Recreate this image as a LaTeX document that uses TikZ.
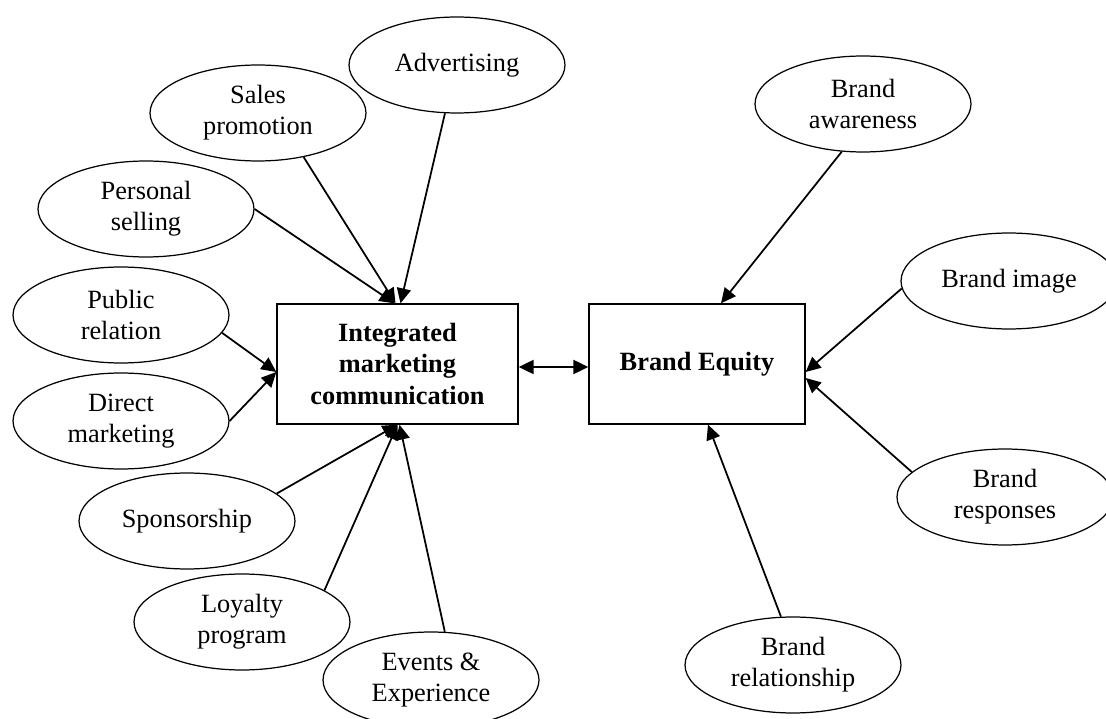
\documentclass[tikz,border=0pt]{standalone}
\usepackage{fontspec}
\setmainfont{Liberation Serif}
\usetikzlibrary{arrows.meta,calc,shapes.geometric}

\begin{document}
\begin{tikzpicture}[x=0.02cm,y=-0.02cm,font=\fontsize{15}{17.5}\selectfont,
  bolla/.style={ellipse,draw,line width=0.7pt,minimum width=4.32cm,minimum height=1.92cm,inner sep=0pt,align=center},
  riquadro/.style={rectangle,draw,line width=0.8pt,minimum height=2.4cm,align=center,font=\fontsize{15}{18}\selectfont\bfseries},
  freccia/.style={line width=1pt,-{Triangle[length=8.5pt,width=8pt]}}]

\useasboundingbox (0,0) rectangle (1106,719);
\clip (0,0) rectangle (1106,719);

\node[riquadro,minimum width=4.82cm] (imc) at (397.5,364) {Integrated\\marketing\\communication};
\node[riquadro,minimum width=4.32cm] (be) at (697,364) {Brand Equity};

\node[bolla] (adv) at (457,65) {Advertising};
\node[bolla] (sales) at (258,113) {Sales\\promotion};
\node[bolla] (pers) at (146,209) {Personal\\selling};
\node[bolla] (pub) at (121,315) {Public\\relation};
\node[bolla] (dir) at (121,421) {Direct\\marketing};
\node[bolla] (spons) at (187,521) {Sponsorship};
\node[bolla] (loy) at (242,622) {Loyalty\\program};
\node[bolla] (events) at (431,680) {Events \&\\Experience};

\node[bolla] (aware) at (863,104) {Brand\\awareness};
\node[bolla] (image) at (1009,281) {Brand image};
\node[bolla] (resp) at (1005,497) {Brand\\responses};
\node[bolla] (rel) at (793,665) {Brand\\relationship};

\coordinate (imcw) at ($(imc.west)+(0,8)$);

\draw[freccia] (adv.-104) -- ($(imc.north)+(3,0)$);
\draw[freccia] (sales.-44) -- ($(imc.north)+(-2,0)$);
\draw[freccia] (pers.east) -- ($(imc.north)+(-3,0)$);
\draw[freccia] (pub.-10) -- (imcw);
\draw[freccia] (dir.east) -- (imcw);
\draw[freccia] (spons.17) -- (imc.south);
\draw[freccia] (loy.21) -- (imc.south);
\draw[freccia] (events.74) -- ($(imc.south)+(2,0)$);

\draw[line width=1pt,{Triangle[length=8.5pt,width=8pt]}-{Triangle[length=8.5pt,width=8pt]}] ($(imc.east)+(0,3)$) -- ($(be.west)+(0,3)$);

\draw[freccia] (aware.-114) -- ($(be.north)+(24,0)$);
\draw[freccia] (image.-176) -- ($(be.east)+(0,8)$);
\draw[freccia] (resp.165) -- ($(be.east)+(0,14)$);
\draw[freccia] (rel.104) -- ($(be.south)+(11,0)$);

\end{tikzpicture}
\end{document}
